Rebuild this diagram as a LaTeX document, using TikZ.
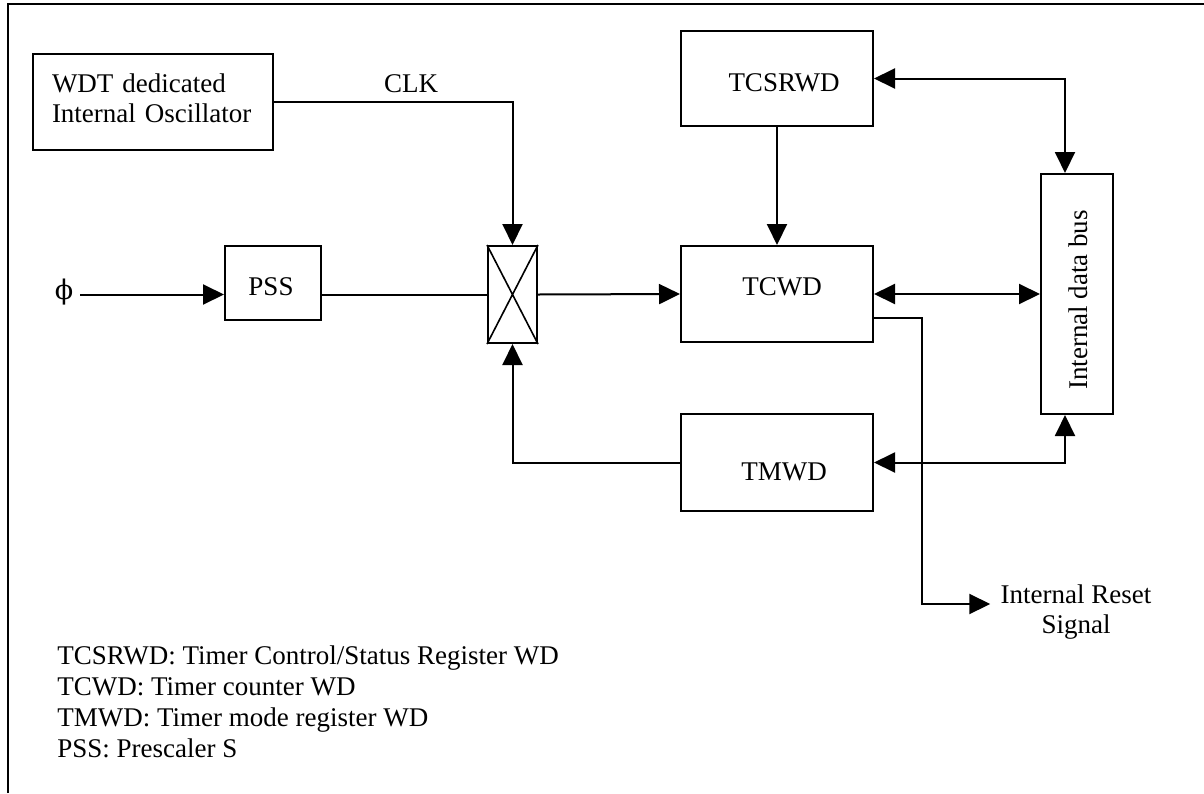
\documentclass[tikz,border=0pt]{standalone}
\usepackage{fontspec}
\setmainfont{Liberation Serif}
\newfontfamily\dvserif{DejaVu Serif}
\usetikzlibrary{arrows.meta,calc}
\tikzset{
  every node/.style={font=\fontsize{13.5pt}{15pt}\selectfont, inner sep=0pt},
  box/.style={draw, line width=1pt, fill=white},
  conn/.style={line width=1pt},
  arr/.style={conn, -{Triangle[length=10.5pt,width=10pt]}},
  arrtwo/.style={conn, {Triangle[length=10.5pt,width=10pt]}-{Triangle[length=10.5pt,width=10pt]}},
  frameline/.style={line width=1.2pt},
  legend/.style={anchor=base west}
}
\begin{document}
\begin{tikzpicture}[x=0.5pt,y=-0.5pt]
\useasboundingbox (0,0) rectangle (1204,793);
\draw[frameline] (8,793) -- (8,4) -- (1204,4);

% boxes
\node[box, minimum width=120pt, minimum height=48pt,
  label={[align=left, text width=101pt, yshift=2pt]center:WDT dedicated\\Internal Oscillator}] (wdt) at (153,102) {};
\node[box, minimum width=96pt, minimum height=47.5pt,
  label={[xshift=3.5pt, yshift=-2.25pt]center:TCSRWD}] (tcsrwd) at (777,78.5) {};
\node[box, minimum width=48pt, minimum height=37pt,
  label={[xshift=-1pt, yshift=-2pt]center:PSS}] (pss) at (273,283) {};
\node[box, minimum width=24.5pt, minimum height=48.5pt] (mux) at (512.5,294.5) {};
\draw[line width=0.8pt] (mux.north west) -- (mux.south east) (mux.north east) -- (mux.south west);
\node[box, minimum width=96pt, minimum height=48pt,
  label={[xshift=2.5pt, yshift=3.5pt]center:TCWD}] (tcwd) at (777,294) {};
\node[box, minimum width=96pt, minimum height=48.5pt,
  label={[xshift=3.5pt, yshift=-4.75pt]center:TMWD}] (tmwd) at (777,462.5) {};
\node[box, minimum width=36pt, minimum height=120pt] (bus) at (1077,294) {};
\node[rotate=90] (bustext) at (1078,300) {Internal data bus};

% texts
\node (clk) at (411,83.5) {CLK};
\node (phi) at (64,292) {\dvserif ϕ};
\node[align=center] (rst) at (1076,612) {Internal Reset\\Signal};
\node[legend] (leg1) at (57,664) {TCSRWD: Timer Control/Status Register WD};
\node[legend] (leg2) at (57,695) {TCWD: Timer counter WD};
\node[legend] (leg3) at (57,726) {TMWD: Timer mode register WD};
\node[legend] (leg4) at (57,757) {PSS: Prescaler S};

% connectors
\draw[arr] (wdt.east) -| (mux.north);
\coordinate (phiout) at (80,294.5);
\draw[arr] (phiout) -- (phiout -| pss.west);
\draw[conn] (pss.east |- mux.west) -- (mux.west);
\draw[arr] (mux.east) -- (tcwd.west);
\draw[arr] (tcsrwd.south) -- (tcwd.north);
\draw[arrtwo] (tcsrwd.east) -| ([xshift=-6pt]bus.north);
\draw[arrtwo] (tcwd.east) -- (bus.west);
\draw[arrtwo] (tmwd.east) -| ([xshift=-6pt]bus.south);
\draw[arr] (tmwd.west) -| (mux.south);
\coordinate (rsout) at ([yshift=-12pt]tcwd.east);
\path (rst.west) ++(-10,-8) coordinate (rsend);
\draw[arr] (rsout) -- ++(48,0) |- (rsend);
\end{tikzpicture}
\end{document}
